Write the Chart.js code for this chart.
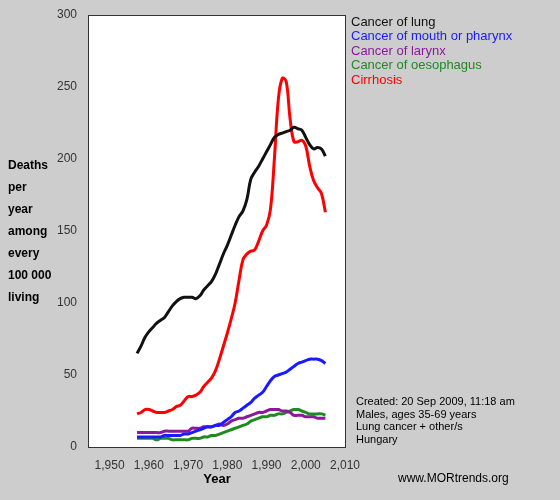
<!DOCTYPE html>
<html><head><meta charset="utf-8">
<script src="https://cdn.jsdelivr.net/npm/chart.js@4"></script>
<style>body{margin:0;background:#cdcdcd}</style>
</head><body><canvas id="chart" width="560" height="500"></canvas>
<script>
const years = [];
for (let y = 1957; y <= 2005; y++) years.push(y);

const lung = [65,70,76,80,83,86,88,90,94,98,101,103,104,104,104,103,105,109,112,115,120,127,134,140,147,154,160,164,172,186,191,195,200,205,210,215,217,218,219,220,222,221,220,215,210,207,208,207,202];
const mouth = [7,7,7,7,7,7,7,8,8,8,8,8,9,9,10,11,12,13,14,14,15,15,17,19,21,24,25,27,29,31,34,36,38,42,46,49,50,51,52,54,56,58,59,60,61,61,61,60,58];
const larynx = [10,10,10,10,10,10,10,11,11,11,11,11,11,11,13,13,13,14,14,14,15,16,15,16,18,19,20,20,21,22,23,24,24,25,26,26,26,25,25,24,22,22,22,21,21,21,20,20,20];
const oesophagus = [6,6,6,6,6,5,6,6,6,5,5,5,5,5,6,6,6,7,7,8,8,9,10,11,12,13,14,15,16,18,19,20,21,21,22,22,23,23,24,25,26,26,25,24,23,23,23,23,22];
const cirrhosis = [23,24,26,26,25,24,24,24,25,26,28,29,32,35,35,36,38,42,45,48,53,61,70,79,89,100,116,130,134,136,137,143,150,154,165,200,241,256,254,228,212,212,213,209,195,185,180,176,163];

const seriesNames = ['Cancer of lung','Cancer of mouth or pharynx','Cancer of larynx','Cancer of oesophagus','Cirrhosis'];
const seriesColors = ['#111111','#1a1aff','#8b1a9b','#1f8b1f','#ff0000'];
const seriesData = [lung, mouth, larynx, oesophagus, cirrhosis];
const xTicks = [1950,1960,1970,1980,1990,2000,2010];
const yLabel = ['Deaths','per','year','among','every','100 000','living'];
const notes = ['Created: 20 Sep 2009, 11:18 am','Males, ages 35-69 years','Lung cancer + other/s','Hungary'];

const decor = {
  id: 'decor',
  beforeDraw(chart) {
    const {ctx, chartArea: a} = chart;
    ctx.save();
    ctx.fillStyle = '#cdcdcd';
    ctx.fillRect(0, 0, chart.width, chart.height);
    ctx.fillStyle = '#ffffff';
    ctx.fillRect(a.left, a.top, a.right - a.left, a.bottom - a.top);
    ctx.restore();
  },
  afterDraw(chart) {
    const {ctx, chartArea: a} = chart;
    ctx.save();
    ctx.strokeStyle = '#333';
    ctx.lineWidth = 1;
    ctx.strokeRect(a.left + 0.5, a.top + 0.5, a.right - a.left, a.bottom - a.top);
    ctx.fillStyle = '#000';
    ctx.font = 'bold 12px "Liberation Sans", Arial, sans-serif';
    ctx.textBaseline = 'middle';
    yLabel.forEach((t, i) => ctx.fillText(t, 8, 166 + i * 22));
    ctx.textAlign = 'center';
    ctx.font = 'bold 13px "Liberation Sans", Arial, sans-serif';
    ctx.fillText('Year', 217, 479);
    ctx.textAlign = 'left';
    ctx.font = '13px "Liberation Sans", Arial, sans-serif';
    seriesNames.forEach((t, i) => { ctx.fillStyle = seriesColors[i]; ctx.fillText(t, 351, 22 + i * 14.5); });
    ctx.fillStyle = '#000';
    ctx.font = '11px "Liberation Sans", Arial, sans-serif';
    notes.forEach((t, i) => ctx.fillText(t, 356, 402 + i * 12.5));
    ctx.font = '12px "Liberation Sans", Arial, sans-serif';
    ctx.fillText('www.MORtrends.org', 398, 479);
    ctx.restore();
  }
};

new Chart(document.getElementById('chart'), {
  type: 'line',
  data: {
    datasets: seriesData.map((d, i) => ({
      label: seriesNames[i],
      data: d.map((v, j) => ({x: years[j], y: v})),
      borderColor: seriesColors[i],
      borderWidth: 3,
      pointRadius: 0,
      tension: 0.4
    }))
  },
  options: {
    responsive: false,
    animation: false,
    devicePixelRatio: 1,
    layout: {padding: {top: 15, right: 215, left: 0, bottom: 0}},
    plugins: {legend: {display: false}, tooltip: {enabled: false}},
    scales: {
      x: {
        type: 'linear', min: 1944.5, max: 2010,
        afterBuildTicks: s => { s.ticks = xTicks.map(v => ({value: v})); },
        afterFit: s => { s.height = 53; },
        grid: {display: false},
        border: {color: '#333'},
        ticks: {color: '#333', font: {size: 12, family: '"Liberation Sans", Arial'}, maxRotation: 0}
      },
      y: {
        min: 0, max: 300,
        afterFit: s => { s.width = 88; },
        grid: {display: false},
        border: {color: '#333'},
        ticks: {stepSize: 50, color: '#333', font: {size: 12, family: '"Liberation Sans", Arial'}}
      }
    }
  },
  plugins: [decor]
});
</script>
</body></html>
